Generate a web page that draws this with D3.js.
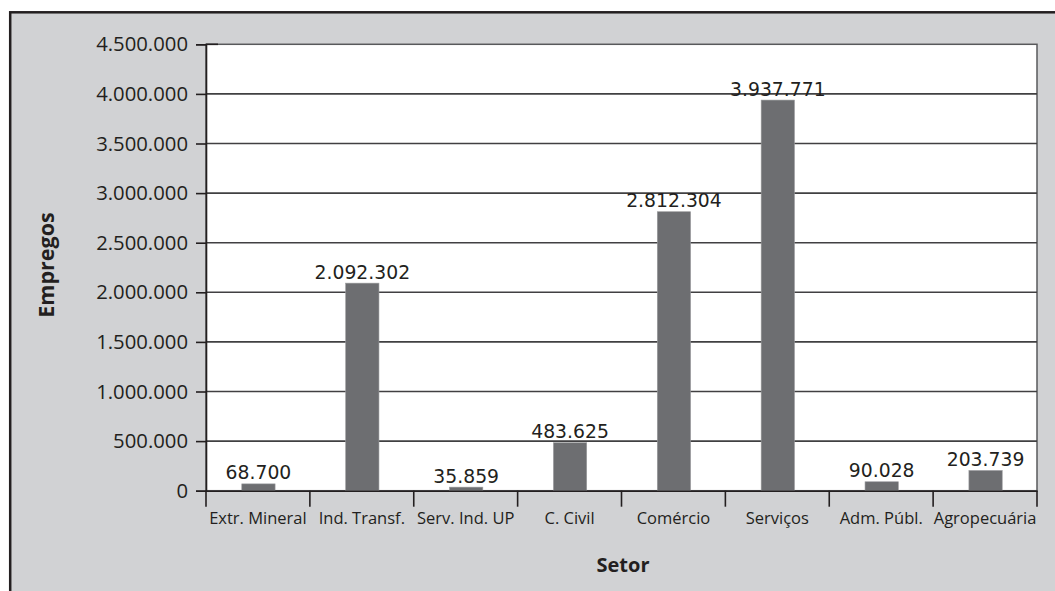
<!DOCTYPE html>
<html>
<head>
<meta charset="utf-8">
<script src="https://cdn.jsdelivr.net/npm/d3@7"></script>
<style>
  html, body { margin: 0; padding: 0; background: #ffffff; }
  svg { display: block; }
</style>
</head>
<body>
<svg id="chart" width="1055" height="591"></svg>
<script>
// Empregos por setor
const categories = ["Extr. Mineral", "Ind. Transf.", "Serv. Ind. UP", "C. Civil", "Comércio", "Serviços", "Adm. Públ.", "Agropecuária"];
const values = [68700, 2092302, 35859, 483625, 2812304, 3937771, 90028, 203739];
const yTicks = [0, 500000, 1000000, 1500000, 2000000, 2500000, 3000000, 3500000, 4000000, 4500000];

const fmt = d3.formatLocale({ decimal: ",", thousands: ".", grouping: [3], currency: ["R$", ""] }).format(",d");

const svg = d3.select("#chart");
const W = 1055, H = 591;
const plot = { left: 206, right: 1037, top: 44.3, bottom: 490.7 };

const humanist = "'Open Sans', 'Noto Sans', sans-serif";
const verdanaLike = "'DejaVu Sans', sans-serif";

// outer panel
svg.append("rect")
  .attr("x", 10.2).attr("y", 12.3)
  .attr("width", W + 10).attr("height", H + 10)
  .attr("fill", "#d1d2d4")
  .attr("stroke", "#231f20").attr("stroke-width", 2.5);

// plot area
svg.append("rect")
  .attr("x", plot.left).attr("y", plot.top)
  .attr("width", plot.right - plot.left).attr("height", plot.bottom - plot.top)
  .attr("fill", "#ffffff")
  .attr("stroke", "#58595b").attr("stroke-width", 1.5);

const x = d3.scaleBand().domain(categories).range([plot.left, plot.right]).paddingInner(0).paddingOuter(0);
const y = d3.scaleLinear().domain([0, 4500000]).range([plot.bottom, plot.top]);

// horizontal gridlines
svg.append("g")
  .selectAll("line")
  .data(yTicks.filter(d => d > 0 && d < 4500000))
  .join("line")
  .attr("x1", plot.left).attr("x2", plot.right)
  .attr("y1", d => y(d)).attr("y2", d => y(d))
  .attr("stroke", "#414042").attr("stroke-width", 1.6);

// bars
const barW = 33.3;
svg.append("g")
  .selectAll("rect")
  .data(values)
  .join("rect")
  .attr("x", (d, i) => x(categories[i]) + x.bandwidth() / 2 - barW / 2 + 0.5)
  .attr("width", barW)
  .attr("y", d => y(d))
  .attr("height", d => plot.bottom - y(d))
  .attr("fill", "#6d6e71")
  .attr("stroke", "#9a9b9d").attr("stroke-width", 0.6);

// value labels
svg.append("g")
  .selectAll("text")
  .data(values)
  .join("text")
  .attr("x", (d, i) => x(categories[i]) + x.bandwidth() / 2 + 0.5)
  .attr("y", d => y(d) - 4.5)
  .attr("text-anchor", "middle")
  .attr("font-family", verdanaLike)
  .attr("font-size", 18.8)
  .attr("fill", "#231f20")
  .text(d => fmt(d));

// y axis
const yAxis = d3.axisLeft(y).tickValues(yTicks).tickFormat(fmt).tickSize(10).tickPadding(8);
const gy = svg.append("g").attr("transform", `translate(${plot.left},0)`).call(yAxis);
gy.select(".domain").attr("stroke", "#231f20").attr("stroke-width", 1.6);
gy.selectAll(".tick line").attr("stroke", "#231f20").attr("stroke-width", 1.6);
gy.selectAll(".tick text")
  .attr("font-family", humanist).attr("font-size", 20.3).attr("fill", "#231f20");

// top tick runs a little into the plot area
svg.append("line")
  .attr("x1", plot.left).attr("x2", plot.left + 12)
  .attr("y1", y(4500000)).attr("y2", y(4500000))
  .attr("stroke", "#231f20").attr("stroke-width", 1.6);

// x axis
const xAxis = d3.axisBottom(x).tickSize(0).tickPadding(22);
const gx = svg.append("g").attr("transform", `translate(0,${plot.bottom})`).call(xAxis);
gx.select(".domain").attr("stroke", "#231f20").attr("stroke-width", 1.6);
gx.selectAll(".tick text")
  .attr("font-family", humanist).attr("font-size", 16.5).attr("fill", "#231f20");

// category separators
svg.append("g")
  .selectAll("line")
  .data(d3.range(categories.length + 1))
  .join("line")
  .attr("x1", i => plot.left + i * x.bandwidth()).attr("x2", i => plot.left + i * x.bandwidth())
  .attr("y1", plot.bottom).attr("y2", plot.bottom + 16)
  .attr("stroke", "#231f20").attr("stroke-width", 1.6);

// axis titles
svg.append("text")
  .attr("transform", `translate(54,265) rotate(-90)`)
  .attr("text-anchor", "middle")
  .attr("font-family", humanist).attr("font-weight", "bold").attr("font-size", 21.5)
  .attr("fill", "#231f20")
  .text("Empregos");

svg.append("text")
  .attr("x", 623).attr("y", 572)
  .attr("text-anchor", "middle")
  .attr("font-family", humanist).attr("font-weight", "bold").attr("font-size", 20)
  .attr("fill", "#231f20")
  .text("Setor");
</script>
</body>
</html>
